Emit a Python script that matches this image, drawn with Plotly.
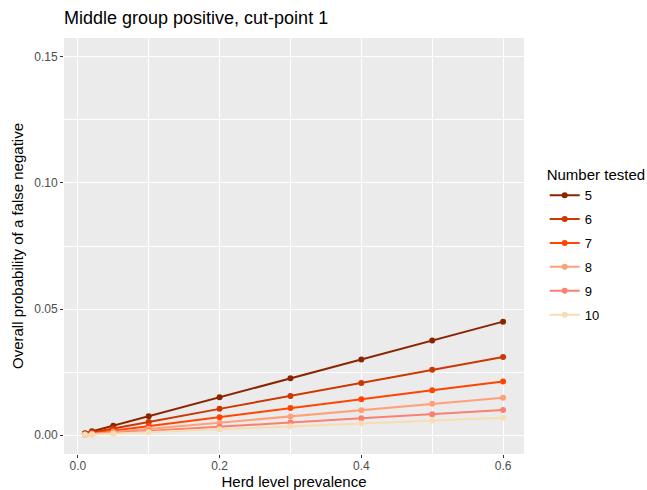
import plotly.graph_objects as go

prevalence = [0.01, 0.02, 0.05, 0.1, 0.2, 0.3, 0.4, 0.5, 0.6]
number_tested = ["5", "6", "7", "8", "9", "10"]
prob_5 = [0.00075, 0.0015, 0.00375, 0.0075, 0.015, 0.0225, 0.030, 0.0375, 0.045]
prob_6 = [0.0005, 0.001, 0.0026, 0.0052, 0.0104, 0.0155, 0.0207, 0.0259, 0.031]
prob_7 = [0.00035, 0.0007, 0.0018, 0.0036, 0.0071, 0.0107, 0.0142, 0.0178, 0.0213]
prob_8 = [0.00025, 0.0005, 0.0012, 0.0025, 0.0049, 0.0074, 0.0099, 0.0124, 0.0148]
prob_9 = [0.00017, 0.00033, 0.0008, 0.0017, 0.0033, 0.005, 0.0067, 0.0083, 0.010]
prob_10 = [0.00012, 0.00023, 0.0006, 0.0012, 0.0023, 0.0035, 0.0046, 0.0058, 0.0069]
series = [prob_5, prob_6, prob_7, prob_8, prob_9, prob_10]
colors = ["#8B2500", "#CD3700", "#FF4500", "#FFA07A", "#FA8072", "#F5DEB3"]

FONT = "Liberation Sans, Arial, sans-serif"

fig = go.Figure()
for name, ys, c in zip(number_tested, series, colors):
    fig.add_trace(go.Scatter(
        x=prevalence, y=ys, name=name, mode="lines+markers",
        line=dict(color=c, width=2), marker=dict(color=c, size=6),
        legendgroup=name,
    ))

fig.update_layout(
    width=647, height=490,
    paper_bgcolor="white", plot_bgcolor="#EBEBEB",
    margin=dict(l=64, r=123, t=38, b=36, autoexpand=False),
    font=dict(family=FONT, color="#4D4D4D", size=12),
    title=dict(text="Middle group positive, cut-point 1", xref="container", x=64 / 647, xanchor="left",
               yref="container", y=1 - 18 / 490, yanchor="middle",
               font=dict(size=18, color="black", family=FONT)),
    legend=dict(
        title=dict(text="Number tested", font=dict(size=15, color="black")),
        x=1.045, xanchor="left", y=0.705, yanchor="top",
        font=dict(size=13, color="black"), tracegroupgap=4,
        bgcolor="rgba(0,0,0,0)", itemwidth=30,
    ),
    showlegend=True,
)
fig.update_xaxes(
    range=[-0.0195, 0.6295], tickvals=[0, 0.2, 0.4, 0.6], tickformat=".1f",
    showgrid=True, gridcolor="white", gridwidth=1.2, zeroline=False, automargin=False,
    ticks="outside", ticklen=3, tickcolor="#333333", tickwidth=1, ticklabelstandoff=-2,
    tickfont=dict(size=12, color="#4D4D4D"),
    minor=dict(tickvals=[0.1, 0.3, 0.5], showgrid=True, gridcolor="white", gridwidth=0.5, ticks=""),
    title=dict(text="Herd level prevalence", font=dict(size=15, color="black")),
)
fig.update_yaxes(
    range=[-0.0075, 0.1575], tickvals=[0, 0.05, 0.1, 0.15], tickformat=".2f",
    showgrid=True, gridcolor="white", gridwidth=1.2, zeroline=False, automargin=False,
    ticks="outside", ticklen=3, tickcolor="#333333", tickwidth=1,
    tickfont=dict(size=12, color="#4D4D4D"),
    minor=dict(tickvals=[0.025, 0.075, 0.125], showgrid=True, gridcolor="white", gridwidth=0.5, ticks=""),
    title=dict(text="Overall probability of a false negative", font=dict(size=15, color="black"), standoff=6),
)

fig.write_html("out.html", config={"displayModeBar": False},
               post_script="document.body.style.margin='0';document.body.style.overflow='hidden';")
